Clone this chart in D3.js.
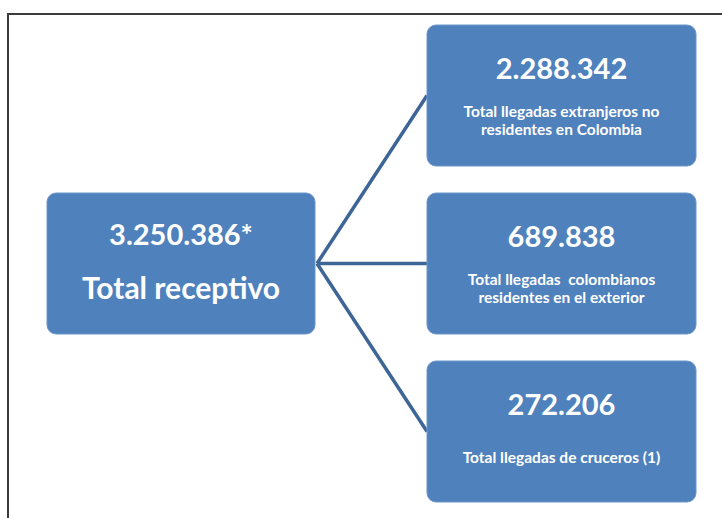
<!DOCTYPE html>
<html>
<head>
<meta charset="utf-8">
<script src="https://cdn.jsdelivr.net/npm/d3@7"></script>
<style>
  body { margin: 0; background: #fff; }
  svg { display: block; }
  text { font-family: Lato, "Open Sans", sans-serif; font-weight: 700; fill: #fff; white-space: pre; }
</style>
</head>
<body>
<svg id="chart"></svg>
<script>
// total on the left, breakdown on the right
const totalValue = "3.250.386*";
const totalLabel = "Total receptivo";
const partKeys = ["extranjeros", "colombianos", "cruceros"];
const partValues = ["2.288.342", "689.838", "272.206"];
const partLabels = [
  ["Total llegadas extranjeros no", "residentes en Colombia"],
  ["Total llegadas  colombianos", "residentes en el exterior"],
  ["Total llegadas de cruceros (1)"]
];

const width = 722, height = 518;
const boxFill = "#4F81BD";
const lineColor = "#3D6596";

const svg = d3.select("#chart").attr("width", width).attr("height", height);

// outer frame (runs off the right and bottom edge)
svg.append("rect")
  .attr("x", 8).attr("y", 14).attr("width", 740).attr("height", 540)
  .attr("fill", "none").attr("stroke", "#3b3b3b").attr("stroke-width", 2);

const yScale = d3.scaleBand().domain(partKeys).range([25, 502]).paddingInner(27 / 168);
const boxH = yScale.bandwidth();
const rightX = 427, boxW = 269;
const leftBox = {x: 47, y: 193, w: 268, h: 141};

// connectors from left box to every right box
const hub = [317, leftBox.y + leftBox.h / 2];
svg.selectAll("line.conn").data(partKeys).enter().append("line")
  .attr("class", "conn")
  .attr("x1", hub[0]).attr("y1", hub[1])
  .attr("x2", rightX).attr("y2", k => yScale(k) + boxH / 2)
  .attr("stroke", lineColor).attr("stroke-width", 3.5);

// left box
svg.append("rect")
  .attr("x", leftBox.x).attr("y", leftBox.y).attr("width", leftBox.w).attr("height", leftBox.h)
  .attr("rx", 9).attr("fill", boxFill).attr("stroke", "#6d96c9").attr("stroke-width", 1);
svg.append("text")
  .attr("x", leftBox.x + leftBox.w / 2).attr("y", 245)
  .attr("text-anchor", "middle").attr("font-size", 29)
  .text(totalValue);
svg.append("text")
  .attr("x", leftBox.x + leftBox.w / 2).attr("y", 299)
  .attr("text-anchor", "middle").attr("font-size", 30)
  .text(totalLabel);

// right boxes
const parts = svg.selectAll("g.part").data(partKeys).enter().append("g")
  .attr("class", "part")
  .attr("transform", k => `translate(${rightX},${yScale(k)})`);

parts.append("rect")
  .attr("width", boxW).attr("height", boxH)
  .attr("rx", 9).attr("fill", boxFill).attr("stroke", "#6d96c9").attr("stroke-width", 1);

parts.append("text")
  .attr("x", boxW / 2).attr("y", 54)
  .attr("text-anchor", "middle").attr("font-size", 29)
  .text((k, i) => partValues[i]);

parts.each(function(k, i) {
  const lines = partLabels[i];
  d3.select(this).selectAll("text.sub").data(lines).enter().append("text")
    .attr("class", "sub")
    .attr("x", boxW / 2)
    .attr("y", (d, j) => (lines.length === 1 ? 102 : 92) + j * 18)
    .attr("text-anchor", "middle").attr("font-size", 15.5)
    .text(d => d);
});
</script>
</body>
</html>
